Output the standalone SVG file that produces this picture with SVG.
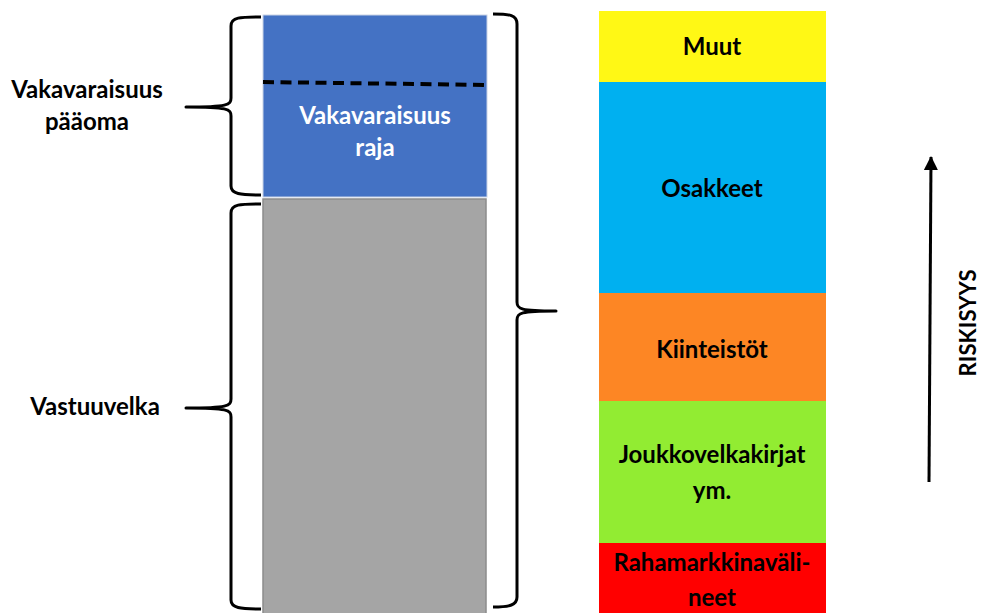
<svg xmlns="http://www.w3.org/2000/svg" width="981" height="613" viewBox="0 0 981 613">
  <defs>
    <style>
      text { font-family: Lato, "Open Sans", "Liberation Sans", sans-serif; font-weight: bold; font-size: 24px; text-anchor: middle; }
      .dark { fill: #000; }
      .light { fill: #fff; }
      .brace { fill: none; stroke: #000; stroke-width: 3; stroke-linejoin: round; stroke-linecap: butt; }
    </style>
    <marker id="head" markerWidth="14" markerHeight="14" refX="13" refY="7" orient="auto" markerUnits="userSpaceOnUse" viewBox="0 0 14 14">
      <path d="M0,0 L14,7 L0,14 Z" fill="#000"/>
    </marker>
  </defs>
  <rect width="981" height="613" fill="#fff"/>

  <!-- balance sheet column -->
  <g id="solvency-capital">
    <rect x="263" y="15" width="224" height="182" fill="#4472C4" stroke="#C9D3E6" stroke-width="1"/>
    <text class="light" x="375" y="124">Vakavaraisuus</text>
    <text class="light" x="375" y="156">raja</text>
  </g>
  <g id="technical-provisions">
    <rect x="263" y="199" width="223" height="416" fill="#A5A5A5" stroke="#8C8C8C" stroke-width="1.5"/>
  </g>
  <g id="solvency-limit">
    <line x1="263" y1="82" x2="490" y2="85" stroke="#000" stroke-width="4" stroke-dasharray="11,6.5"/>
  </g>

  <!-- asset classes -->
  <g id="muut">
    <rect x="599" y="11" width="227" height="71" fill="#FFF815"/>
    <text class="dark" x="712" y="55">Muut</text>
  </g>
  <g id="osakkeet">
    <rect x="599" y="82" width="227" height="211" fill="#00B0F0"/>
    <text class="dark" x="712" y="197">Osakkeet</text>
  </g>
  <g id="kiinteistot">
    <rect x="599" y="293" width="227" height="108" fill="#FD8624"/>
    <text class="dark" x="712" y="358">Kiinteistöt</text>
  </g>
  <g id="joukkovelkakirjat">
    <rect x="599" y="401" width="227" height="142" fill="#92EC32"/>
    <text class="dark" x="712" y="463">Joukkovelkakirjat</text>
    <text class="dark" x="712" y="499">ym.</text>
  </g>
  <g id="rahamarkkina">
    <rect x="599" y="543" width="227" height="72" fill="#FF0000"/>
    <text class="dark" x="712" y="571">Rahamarkkinaväli-</text>
    <text class="dark" x="712" y="606">neet</text>
  </g>

  <!-- side labels -->
  <g id="label-capital">
    <text class="dark" x="87" y="98">Vakavaraisuus</text>
    <text class="dark" x="87" y="130">pääoma</text>
  </g>
  <g id="label-provisions">
    <text class="dark" x="95" y="415">Vastuuvelka</text>
  </g>
  <g id="label-risk">
    <text class="dark" transform="translate(976,323) rotate(-90)" style="font-size:22px" textLength="107" lengthAdjust="spacing">RISKISYYS</text>
  </g>

  <!-- braces and arrow -->
  <g id="connectors">
    <path class="brace" d="M261,17 C240,17 231,17 231,26 L231,98 C231,105 228,107 186,107 C228,107 231,109 231,116 L231,186 C231,194 240,195 261,195"/>
    <path class="brace" d="M261,204 C240,204 231,204 231,213 L231,399 C231,406 228,408 186,408 C228,408 231,410 231,417 L231,600 C231,608 240,609 261,609"/>
    <path class="brace" d="M493,14 C510,14 517,15 517,24 L517,302 C517,309 520,311 556,311 C520,311 517,313 517,320 L517,597 C517,605 510,607 493,607"/>
    <line x1="929" y1="482" x2="931" y2="157" stroke="#000" stroke-width="3" marker-end="url(#head)"/>
  </g>
</svg>
